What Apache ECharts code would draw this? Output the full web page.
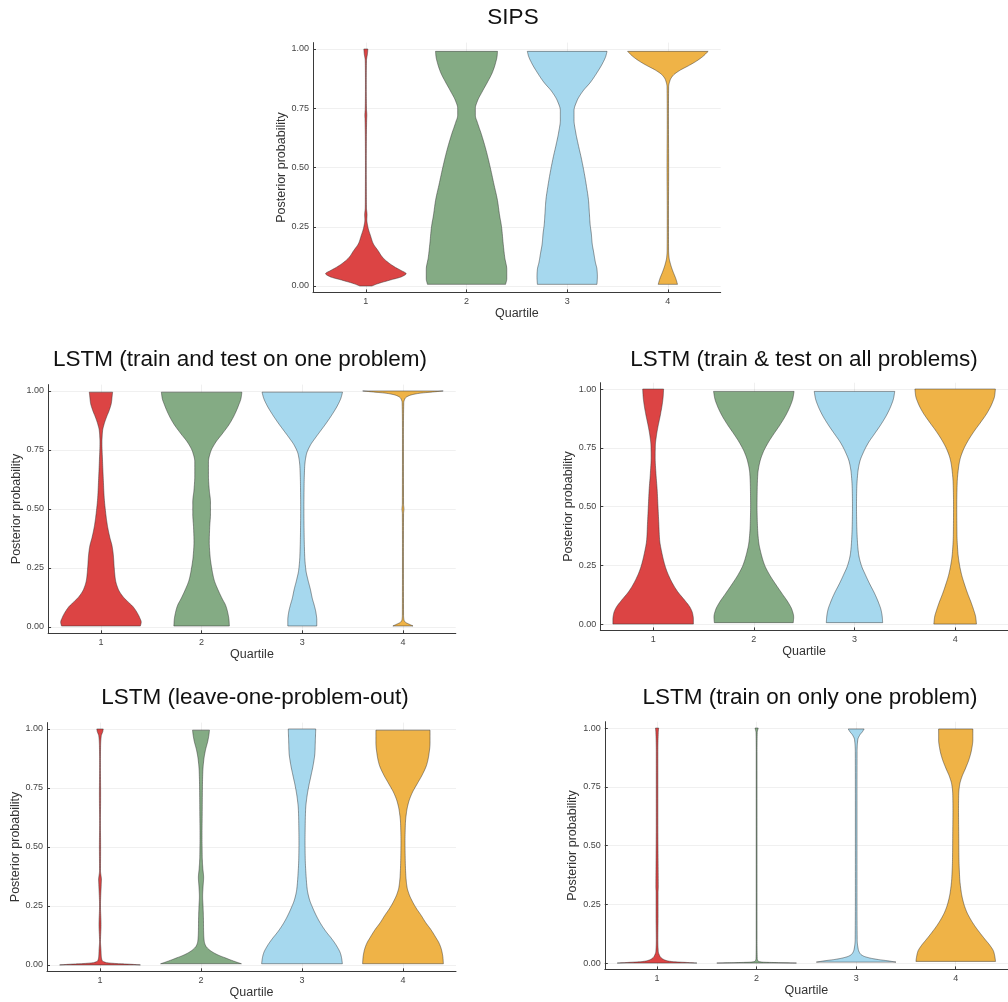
<!DOCTYPE html>
<html><head><meta charset="utf-8">
<script src="https://cdn.jsdelivr.net/npm/echarts@6/dist/echarts.min.js"></script>
<style>html,body{margin:0;padding:0;background:#fff}#c{width:1008px;height:1002px}</style>
</head><body><div id="c"></div>
<script>
// ---------- data ----------
const quartiles = [1, 2, 3, 4];
const yTickValues = [0, 0.25, 0.5, 0.75, 1];
const panelTitles = [
  'SIPS',
  'LSTM (train and test on one problem)',
  'LSTM (train & test on all problems)',
  'LSTM (leave-one-problem-out)',
  'LSTM (train on only one problem)'
];
const xAxisName = 'Quartile';
const yAxisName = 'Posterior probability';

// violin profiles: [posterior probability, relative density (1 = widest)]
const sips_q1 = [[0.0,0.15],[0.01,0.3],[0.025,0.6],[0.04,0.9],[0.052,1.0],[0.065,0.88],[0.08,0.72],[0.1,0.55],[0.12,0.42],[0.15,0.3],[0.18,0.18],[0.21,0.12],[0.25,0.05],[0.28,0.025],[0.3,0.03],[0.33,0.015],[0.4,0.012],[0.5,0.01],[0.6,0.012],[0.7,0.02],[0.72,0.025],[0.75,0.015],[0.85,0.01],[0.95,0.015],[0.98,0.04],[1.0,0.05]];
const sips_q2 = [[0.007,0.97],[0.03,1.0],[0.07,1.0],[0.12,0.95],[0.18,0.91],[0.25,0.87],[0.3,0.82],[0.36,0.77],[0.43,0.68],[0.5,0.59],[0.57,0.49],[0.64,0.37],[0.69,0.27],[0.72,0.22],[0.75,0.22],[0.78,0.27],[0.82,0.39],[0.86,0.52],[0.9,0.64],[0.94,0.72],[0.97,0.76],[0.99,0.77]];
const sips_q3 = [[0.007,0.74],[0.04,0.75],[0.07,0.74],[0.1,0.7],[0.14,0.66],[0.18,0.62],[0.22,0.6],[0.26,0.57],[0.31,0.55],[0.36,0.53],[0.42,0.48],[0.48,0.42],[0.54,0.35],[0.6,0.27],[0.65,0.21],[0.7,0.17],[0.74,0.17],[0.78,0.24],[0.82,0.38],[0.86,0.58],[0.9,0.74],[0.94,0.88],[0.97,0.96],[0.99,0.99]];
const sips_q4 = [[0.007,0.24],[0.03,0.2],[0.06,0.13],[0.09,0.07],[0.12,0.03],[0.15,0.018],[0.3,0.015],[0.5,0.02],[0.7,0.015],[0.84,0.02],[0.87,0.06],[0.89,0.14],[0.91,0.3],[0.93,0.52],[0.95,0.72],[0.97,0.88],[0.99,1.0]];

const one_q1 = [[0.004,0.98],[0.02,1.0],[0.04,0.96],[0.06,0.9],[0.085,0.8],[0.11,0.65],[0.13,0.54],[0.16,0.43],[0.2,0.36],[0.25,0.33],[0.3,0.31],[0.34,0.28],[0.38,0.22],[0.43,0.16],[0.48,0.12],[0.55,0.08],[0.62,0.06],[0.7,0.04],[0.78,0.025],[0.83,0.04],[0.86,0.08],[0.89,0.14],[0.92,0.21],[0.95,0.26],[0.98,0.28],[0.995,0.29]];
const one_q2 = [[0.004,0.69],[0.03,0.68],[0.06,0.65],[0.09,0.6],[0.12,0.51],[0.16,0.4],[0.2,0.31],[0.25,0.25],[0.3,0.21],[0.36,0.19],[0.42,0.2],[0.48,0.22],[0.53,0.22],[0.58,0.19],[0.64,0.17],[0.7,0.17],[0.74,0.22],[0.78,0.34],[0.82,0.52],[0.86,0.69],[0.9,0.82],[0.94,0.92],[0.97,0.98],[0.995,1.0]];
const one_q3 = [[0.004,0.36],[0.03,0.36],[0.06,0.34],[0.09,0.3],[0.12,0.25],[0.16,0.2],[0.2,0.14],[0.24,0.09],[0.3,0.06],[0.4,0.045],[0.5,0.04],[0.6,0.045],[0.68,0.06],[0.73,0.1],[0.77,0.2],[0.8,0.32],[0.83,0.45],[0.86,0.58],[0.9,0.74],[0.94,0.88],[0.97,0.96],[0.995,1.0]];
const one_q4 = [[0.004,0.25],[0.012,0.15],[0.02,0.06],[0.03,0.025],[0.05,0.015],[0.3,0.012],[0.48,0.015],[0.5,0.025],[0.52,0.015],[0.8,0.012],[0.95,0.02],[0.97,0.06],[0.98,0.15],[0.99,0.4],[0.995,0.7],[1.0,1.0]];

const all_q1 = [[0.0,1.0],[0.02,1.0],[0.045,0.98],[0.07,0.92],[0.1,0.79],[0.14,0.6],[0.19,0.43],[0.24,0.31],[0.3,0.22],[0.36,0.16],[0.43,0.14],[0.5,0.12],[0.57,0.1],[0.64,0.07],[0.71,0.05],[0.76,0.055],[0.8,0.08],[0.84,0.12],[0.89,0.18],[0.94,0.23],[0.97,0.25],[1.0,0.26]];
const all_q2 = [[0.006,0.98],[0.03,0.99],[0.06,0.95],[0.09,0.86],[0.13,0.7],[0.17,0.54],[0.21,0.39],[0.25,0.27],[0.3,0.18],[0.35,0.12],[0.42,0.09],[0.5,0.08],[0.58,0.085],[0.64,0.1],[0.69,0.15],[0.73,0.23],[0.77,0.35],[0.81,0.5],[0.85,0.66],[0.89,0.8],[0.93,0.91],[0.96,0.97],[0.99,1.0]];
const all_q3 = [[0.006,0.7],[0.03,0.69],[0.06,0.66],[0.09,0.6],[0.13,0.5],[0.17,0.38],[0.21,0.27],[0.25,0.17],[0.3,0.1],[0.36,0.07],[0.43,0.055],[0.5,0.05],[0.57,0.055],[0.64,0.08],[0.69,0.13],[0.73,0.22],[0.77,0.34],[0.81,0.5],[0.85,0.66],[0.89,0.8],[0.93,0.91],[0.96,0.97],[0.99,1.0]];
const all_q4 = [[0.0,0.53],[0.03,0.51],[0.06,0.46],[0.09,0.4],[0.13,0.31],[0.17,0.23],[0.21,0.16],[0.25,0.11],[0.3,0.07],[0.38,0.045],[0.5,0.04],[0.6,0.05],[0.66,0.08],[0.7,0.12],[0.74,0.2],[0.78,0.32],[0.82,0.47],[0.86,0.64],[0.9,0.8],[0.94,0.92],[0.97,0.98],[1.0,1.0]];

const lopo_q1 = [[0.0,1.0],[0.003,0.75],[0.006,0.4],[0.01,0.15],[0.02,0.05],[0.04,0.03],[0.06,0.025],[0.1,0.012],[0.17,0.025],[0.25,0.012],[0.34,0.03],[0.36,0.035],[0.4,0.012],[0.5,0.015],[0.6,0.01],[0.72,0.015],[0.85,0.01],[0.93,0.015],[0.97,0.03],[0.99,0.07],[1.0,0.08]];
const lopo_q2 = [[0.005,1.0],[0.012,0.88],[0.02,0.75],[0.03,0.6],[0.04,0.45],[0.05,0.33],[0.065,0.2],[0.08,0.12],[0.1,0.08],[0.14,0.065],[0.2,0.06],[0.25,0.05],[0.29,0.04],[0.33,0.05],[0.37,0.065],[0.41,0.045],[0.46,0.03],[0.55,0.025],[0.65,0.03],[0.75,0.035],[0.82,0.045],[0.87,0.07],[0.91,0.11],[0.95,0.17],[0.98,0.2],[0.995,0.21]];
const lopo_q3 = [[0.005,1.0],[0.03,0.98],[0.05,0.95],[0.08,0.86],[0.11,0.74],[0.14,0.6],[0.17,0.48],[0.2,0.38],[0.24,0.27],[0.28,0.18],[0.32,0.13],[0.38,0.1],[0.45,0.08],[0.52,0.075],[0.6,0.08],[0.66,0.09],[0.71,0.12],[0.76,0.17],[0.8,0.22],[0.85,0.28],[0.9,0.32],[0.95,0.33],[1.0,0.34]];
const lopo_q4 = [[0.005,1.0],[0.03,0.99],[0.06,0.96],[0.09,0.9],[0.12,0.8],[0.15,0.69],[0.18,0.56],[0.21,0.45],[0.24,0.33],[0.27,0.23],[0.3,0.15],[0.33,0.1],[0.38,0.07],[0.45,0.055],[0.52,0.05],[0.6,0.06],[0.65,0.09],[0.69,0.14],[0.73,0.23],[0.77,0.36],[0.81,0.49],[0.85,0.59],[0.89,0.64],[0.94,0.67],[0.995,0.67]];

const only_q1 = [[0.0,1.0],[0.003,0.7],[0.006,0.4],[0.01,0.25],[0.015,0.17],[0.02,0.12],[0.03,0.07],[0.05,0.03],[0.1,0.02],[0.2,0.025],[0.3,0.025],[0.32,0.03],[0.45,0.025],[0.6,0.02],[0.8,0.02],[0.9,0.02],[0.98,0.03],[1.0,0.04]];
const only_q2 = [[0.0,1.0],[0.002,0.5],[0.004,0.15],[0.008,0.04],[0.02,0.015],[0.1,0.01],[0.5,0.01],[0.9,0.01],[0.98,0.015],[1.0,0.04]];
const only_q3 = [[0.004,1.0],[0.01,0.78],[0.015,0.55],[0.022,0.33],[0.03,0.18],[0.04,0.1],[0.06,0.05],[0.1,0.025],[0.3,0.02],[0.6,0.02],[0.9,0.022],[0.95,0.04],[0.97,0.09],[0.985,0.16],[0.996,0.2]];
const only_q4 = [[0.007,1.0],[0.03,0.98],[0.05,0.95],[0.075,0.86],[0.1,0.74],[0.13,0.6],[0.16,0.47],[0.19,0.36],[0.22,0.27],[0.26,0.19],[0.3,0.14],[0.36,0.1],[0.45,0.08],[0.55,0.075],[0.65,0.07],[0.72,0.075],[0.76,0.1],[0.79,0.15],[0.83,0.25],[0.87,0.34],[0.91,0.4],[0.95,0.43],[0.996,0.43]];

const panels = [
  [sips_q1, sips_q2, sips_q3, sips_q4],
  [one_q1, one_q2, one_q3, one_q4],
  [all_q1, all_q2, all_q3, all_q4],
  [lopo_q1, lopo_q2, lopo_q3, lopo_q4],
  [only_q1, only_q2, only_q3, only_q4]
];

// ---------- styling / layout ----------
const violinColors = ['#dc4444', '#84ab84', '#a6d8ee', '#efb347'];
const HALF_WIDTH = 0.4;
const FONT = '"Liberation Sans", Arial, sans-serif';
const gridBoxes = [
  {left: 313, top: 42.6, width: 407.7, height: 249.8},
  {left: 48.1, top: 384.6, width: 407.7, height: 248.7},
  {left: 600.3, top: 382.7, width: 407.7, height: 247.7},
  {left: 47, top: 722.6, width: 409, height: 248.7},
  {left: 604.8, top: 721.7, width: 410, height: 247.7}
];
const titlePos = [[513, 18], [240, 360], [804, 360], [255, 698], [810, 698]];

// smooth drawing of a violin edge (monotone cubic through the profile points; rendering only)
function monotoneSampler(prof) {
  const n = prof.length;
  const xs = prof.map(d => d[0]), ys = prof.map(d => d[1]);
  const dx = [], m = [];
  for (let i = 0; i < n - 1; i++) { dx.push(xs[i + 1] - xs[i]); m.push((ys[i + 1] - ys[i]) / dx[i]); }
  const t = new Array(n);
  t[0] = m[0]; t[n - 1] = m[n - 2];
  for (let i = 1; i < n - 1; i++) {
    if (m[i - 1] * m[i] <= 0) t[i] = 0;
    else {
      const w1 = 2 * dx[i] + dx[i - 1], w2 = dx[i] + 2 * dx[i - 1];
      t[i] = (w1 + w2) / (w1 / m[i - 1] + w2 / m[i]);
    }
  }
  const out = [];
  for (let i = 0; i < n - 1; i++) {
    const steps = 10;
    for (let s = 0; s < steps; s++) {
      const u = s / steps, h = dx[i];
      const h00 = 2*u*u*u - 3*u*u + 1, h10 = u*u*u - 2*u*u + u, h01 = -2*u*u*u + 3*u*u, h11 = u*u*u - u*u;
      out.push([xs[i] + u * h, Math.max(0, h00*ys[i] + h10*h*t[i] + h01*ys[i+1] + h11*h*t[i+1])]);
    }
  }
  out.push([xs[n - 1], ys[n - 1]]);
  return out;
}

const chart = echarts.init(document.getElementById('c'), null, {renderer: 'canvas'});
const axisColor = '#3a3a3a';
const gridColor = 'rgba(0,0,0,0.06)';

const option = {
  backgroundColor: '#ffffff',
  animation: false,
  grid: gridBoxes.map(g => Object.assign({containLabel: false}, g)),
  xAxis: panels.map((_, p) => ({
    gridIndex: p, type: 'value', min: 0.475, max: 4.525,
    name: xAxisName, nameLocation: 'middle', nameGap: 14,
    nameTextStyle: {fontSize: 12.5, color: '#333', fontFamily: FONT},
    axisLine: {show: true, onZero: false, lineStyle: {color: axisColor, width: 1}},
    axisTick: {show: true, inside: true, length: 3, customValues: quartiles, lineStyle: {color: axisColor}},
    axisLabel: {show: true, customValues: quartiles, fontSize: 9, color: '#444', margin: 5, fontFamily: FONT,
      formatter: v => String(v)},
    splitLine: {show: true, lineStyle: {color: gridColor, width: 1}}
  })),
  yAxis: panels.map((_, p) => ({
    gridIndex: p, type: 'value', min: -0.027, max: 1.027,
    name: yAxisName, nameLocation: 'middle', nameGap: 25, nameRotate: 90,
    nameTextStyle: {fontSize: 12.5, color: '#333', fontFamily: FONT},
    axisLine: {show: true, onZero: false, lineStyle: {color: axisColor, width: 1}},
    axisTick: {show: true, inside: true, length: 3, customValues: yTickValues, lineStyle: {color: axisColor}},
    axisLabel: {show: true, customValues: yTickValues, fontSize: 9, color: '#444', margin: 4, fontFamily: FONT,
      formatter: v => v.toFixed(2)},
    splitLine: {show: true, lineStyle: {color: gridColor, width: 1}}
  })),
  graphic: panelTitles.map((t, p) => ({
    type: 'text', x: titlePos[p][0], y: titlePos[p][1],
    style: {text: t, fill: '#111', font: '22.5px ' + FONT, textAlign: 'center', textVerticalAlign: 'middle'}
  })),
  series: panels.map((shapes, p) => ({
    type: 'custom', xAxisIndex: p, yAxisIndex: p,
    data: quartiles.map(q => [q, 0.5]),
    encode: {x: 0, y: 1},
    renderItem: function (params, api) {
      const q = api.value(0);
      const prof = monotoneSampler(shapes[params.dataIndex]);
      const right = prof.map(d => api.coord([q + d[1] * HALF_WIDTH, d[0]]));
      const left = prof.slice().reverse().map(d => api.coord([q - d[1] * HALF_WIDTH, d[0]]));
      return {
        type: 'polygon',
        shape: {points: right.concat(left)},
        style: {fill: violinColors[params.dataIndex], stroke: 'rgba(45,45,45,0.6)', lineWidth: 0.8, lineJoin: 'round'}
      };
    }
  }))
};
chart.setOption(option);
</script></body></html>
